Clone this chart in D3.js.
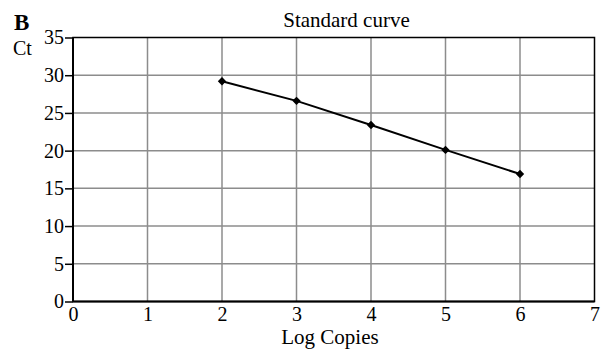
<!DOCTYPE html>
<html>
  <head>
    <meta charset="utf-8" />
    <title>Standard curve</title>
    <style>
      body { margin: 0; background: #fff; }
      svg text { font-family: "Liberation Serif", "Times New Roman", serif; fill: #000; }
      .grid line { stroke: #8c8c8c; stroke-width: 1.5px; }
      .axis path { display: none; }
    </style>
    <script src="https://d3js.org/d3.v7.min.js"></script>
  </head>
  <body>
    <div id="chart"></div>
    <script>
      const logCopies = [2, 3, 4, 5, 6];
      const ctValues = [29.2, 26.6, 23.4, 20.1, 16.9];
      const xTicks = [0, 1, 2, 3, 4, 5, 6, 7];
      const yTicks = [0, 5, 10, 15, 20, 25, 30, 35];

      const margin = { top: 37.5, right: 10, bottom: 52.5, left: 73 };
      const width = 605 - margin.left - margin.right - 0.5;
      const height = 354 - margin.top - margin.bottom;

      const svg = d3.select("#chart").append("svg")
        .attr("width", 605).attr("height", 354);

      const g = svg.append("g")
        .attr("transform", `translate(${margin.left},${margin.top})`);

      const x = d3.scaleLinear().domain([0, 7]).range([0, width]);
      const y = d3.scaleLinear().domain([0, 35]).range([height, 0]);

      // grid
      g.append("g").attr("class", "grid")
        .selectAll("line.v").data(xTicks.slice(1, -1)).enter().append("line")
        .attr("x1", d => x(d)).attr("x2", d => x(d))
        .attr("y1", 0).attr("y2", height);
      g.append("g").attr("class", "grid")
        .selectAll("line.h").data(yTicks.slice(1, -1)).enter().append("line")
        .attr("x1", 0).attr("x2", width)
        .attr("y1", d => y(d)).attr("y2", d => y(d));

      // frame
      g.append("rect")
        .attr("x", 0).attr("y", 0).attr("width", width).attr("height", height)
        .attr("fill", "none").attr("stroke", "#000").attr("stroke-width", 1.5);
      g.append("line").attr("x1", 0).attr("x2", 0).attr("y1", 0).attr("y2", height)
        .attr("stroke", "#000").attr("stroke-width", 2);
      g.append("line").attr("x1", 0).attr("x2", width).attr("y1", height).attr("y2", height)
        .attr("stroke", "#000").attr("stroke-width", 2);

      // axes
      const yAxis = g.append("g").attr("class", "axis")
        .call(d3.axisLeft(y).tickValues(yTicks).tickFormat(d3.format("d")).tickSize(8).tickPadding(1));
      yAxis.attr("font-family", null).attr("font-size", null);
      yAxis.selectAll("line").attr("stroke", "#000").attr("stroke-width", 1.5);
      yAxis.selectAll("text").style("font-size", "20px");

      const xAxis = g.append("g").attr("class", "axis")
        .attr("transform", `translate(0,${height})`)
        .call(d3.axisBottom(x).tickValues(xTicks).tickFormat(d3.format("d")).tickSize(0).tickPadding(5));
      xAxis.attr("font-family", null).attr("font-size", null);
      xAxis.selectAll("text").style("font-size", "20px");

      // line + markers
      const pts = logCopies.map((d, i) => [d, ctValues[i]]);
      g.append("path").datum(pts)
        .attr("fill", "none").attr("stroke", "#000").attr("stroke-width", 2)
        .attr("d", d3.line().x(d => x(d[0])).y(d => y(d[1])));
      g.selectAll("path.pt").data(pts).enter().append("path")
        .attr("class", "pt")
        .attr("transform", d => `translate(${x(d[0])},${y(d[1])})`)
        .attr("d", d3.symbol(d3.symbolDiamond2, 45))
        .attr("fill", "#000");

      // labels
      svg.append("text").attr("x", 346.5).attr("y", 26.5)
        .attr("text-anchor", "middle").style("font-size", "21px").text("Standard curve");
      svg.append("text").attr("x", 330).attr("y", 344)
        .attr("text-anchor", "middle").style("font-size", "21px").text("Log Copies");
      svg.append("text").attr("x", 14).attr("y", 30)
        .style("font-size", "23px").style("font-weight", "bold").text("B");
      svg.append("text").attr("x", 13).attr("y", 55)
        .style("font-size", "20px").text("Ct");
    </script>
  </body>
</html>
